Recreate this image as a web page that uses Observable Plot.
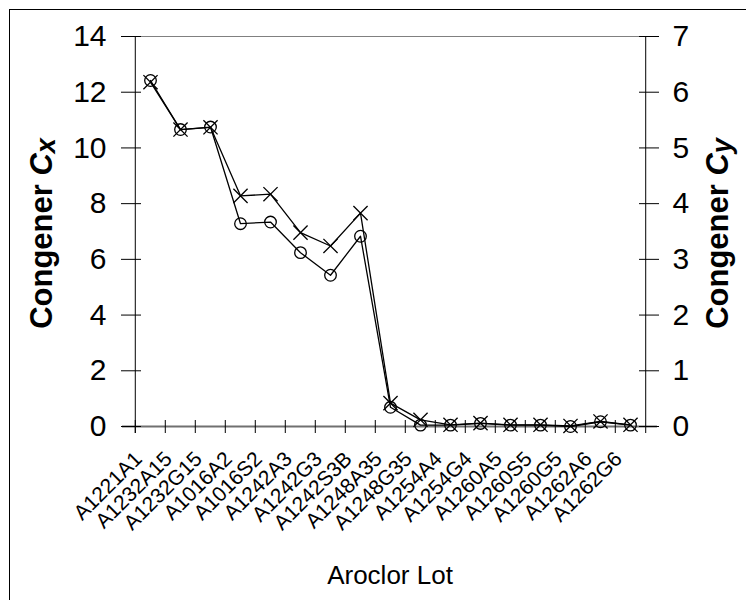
<!DOCTYPE html>
<html>
<head>
<meta charset="utf-8">
<script src="https://cdn.jsdelivr.net/npm/d3@7"></script>
<script src="https://cdn.jsdelivr.net/npm/@observablehq/plot@0.6"></script>
<style>
  html, body { margin: 0; padding: 0; background: #fff; overflow: hidden; }
  #wrap { position: relative; width: 746px; height: 600px; }
  #border { position: absolute; left: 9px; top: 9px; width: 800px; height: 700px;
            border-left: 1.5px solid #000; border-top: 1.5px solid #000; pointer-events: none; }
  #chart { position: absolute; left: 0; top: 0; }
</style>
</head>
<body>
<div id="wrap"><div id="chart"></div><div id="border"></div></div>
<script>
const categories = ["A1221A1","A1232A15","A1232G15","A1016A2","A1016S2","A1242A3","A1242G3","A1242S3B","A1248A35","A1248G35","A1254A4","A1254G4","A1260A5","A1260S5","A1260G5","A1262A6","A1262G6"];
const congenerCx = [12.42, 10.66, 10.75, 7.28, 7.34, 6.24, 5.43, 6.83, 0.69, 0.05, 0.05, 0.11, 0.05, 0.05, 0.0, 0.17, 0.05];
const congenerCy = [6.18, 5.33, 5.37, 4.14, 4.17, 3.48, 3.24, 3.83, 0.42, 0.12, 0.03, 0.06, 0.03, 0.03, 0.01, 0.09, 0.03];
const leftTicks = [0, 2, 4, 6, 8, 10, 12, 14];
const rightTicks = [0, 1, 2, 3, 4, 5, 6, 7];

const rows = categories.map((lot, i) => ({lot, cx: congenerCx[i], cy: congenerCy[i]}));

const W = 746, H = 600, mL = 131, mR = 98, mT = 36, mB = 174;
const plotW = W - mL - mR, plotH = H - mT - mB;
const bw = plotW / categories.length;
const ratio = 14 / 7; // right axis scale factor

const font = "'Liberation Sans', Arial, sans-serif";

const chart = Plot.plot({
  width: W, height: H,
  marginLeft: mL, marginRight: mR, marginTop: mT, marginBottom: mB,
  style: {fontFamily: font, background: "transparent", color: "black", overflow: "visible"},
  x: {type: "band", domain: categories, padding: 0},
  y: {domain: [0, 14]},
  marks: [
    Plot.ruleY([14], {stroke: "#808080", strokeWidth: 1}),
    Plot.ruleY([0], {stroke: "#707070", strokeWidth: 2, insetLeft: -9, insetRight: -9}),
    Plot.ruleX(categories, {x: d => d, dx: -bw / 2, insetTop: plotH - 6, insetBottom: -7, stroke: "black"}),
    Plot.ruleX([categories[0]], {x: d => d, dx: -bw / 2, insetBottom: -7, stroke: "black"}),
    Plot.ruleX([categories[categories.length - 1]], {x: d => d, dx: bw / 2, insetBottom: -7, stroke: "black"}),
    Plot.axisY({anchor: "left", ticks: leftTicks, tickFormat: d => d, tickSize: 20, dx: 10, tickPadding: 15, fontSize: 30, label: null}),
    Plot.axisY({anchor: "right", ticks: rightTicks.map(d => d * ratio), tickFormat: d => d / ratio, tickSize: 20, dx: -10, tickPadding: 14, fontSize: 30, label: null}),
    Plot.axisX({anchor: "bottom", tickRotate: -45, tickSize: 0, tickPadding: 29, dx: -12, fontSize: 21, label: null}),
    Plot.line(rows, {x: "lot", y: "cx", stroke: "black", strokeWidth: 1.3}),
    Plot.line(rows, {x: "lot", y: d => d.cy * ratio, stroke: "black", strokeWidth: 1.3}),
    Plot.dot(rows, {x: "lot", y: "cx", symbol: "circle", r: 5.8, stroke: "black", fill: "none", strokeWidth: 1.3}),
    Plot.dot(rows, {x: "lot", y: d => d.cy * ratio, symbol: "times", r: 6.5, stroke: "black", strokeWidth: 1.3}),
    Plot.text(["Congener Cx"], {text: d => d, frameAnchor: "left", textAnchor: "middle", dx: -89, dy: 2, rotate: -90, fontSize: 31, fontWeight: "bold", fill: "black"}),
    Plot.text(["Congener Cy"], {text: d => d, frameAnchor: "right", textAnchor: "middle", dx: 70, dy: 2, rotate: -90, fontSize: 31, fontWeight: "bold", fill: "black"}),
    Plot.text(["Aroclor Lot"], {text: d => d, frameAnchor: "bottom", dy: 157, fontSize: 26, fill: "black"})
  ]
});

// italic C with lowered subscript letter in the axis titles
d3.select(chart).selectAll("text").each(function() {
  const t = this.textContent;
  if (t === "Congener Cx" || t === "Congener Cy") {
    const sub = t.slice(-1);
    const sel = d3.select(this);
    sel.text("Congener ");
    sel.append("tspan").attr("font-style", "italic").text("C");
    sel.append("tspan").attr("font-style", "italic").attr("font-size", 27).attr("dy", 3).text(sub);
  }
});

document.getElementById("chart").appendChild(chart);
</script>
</body>
</html>
